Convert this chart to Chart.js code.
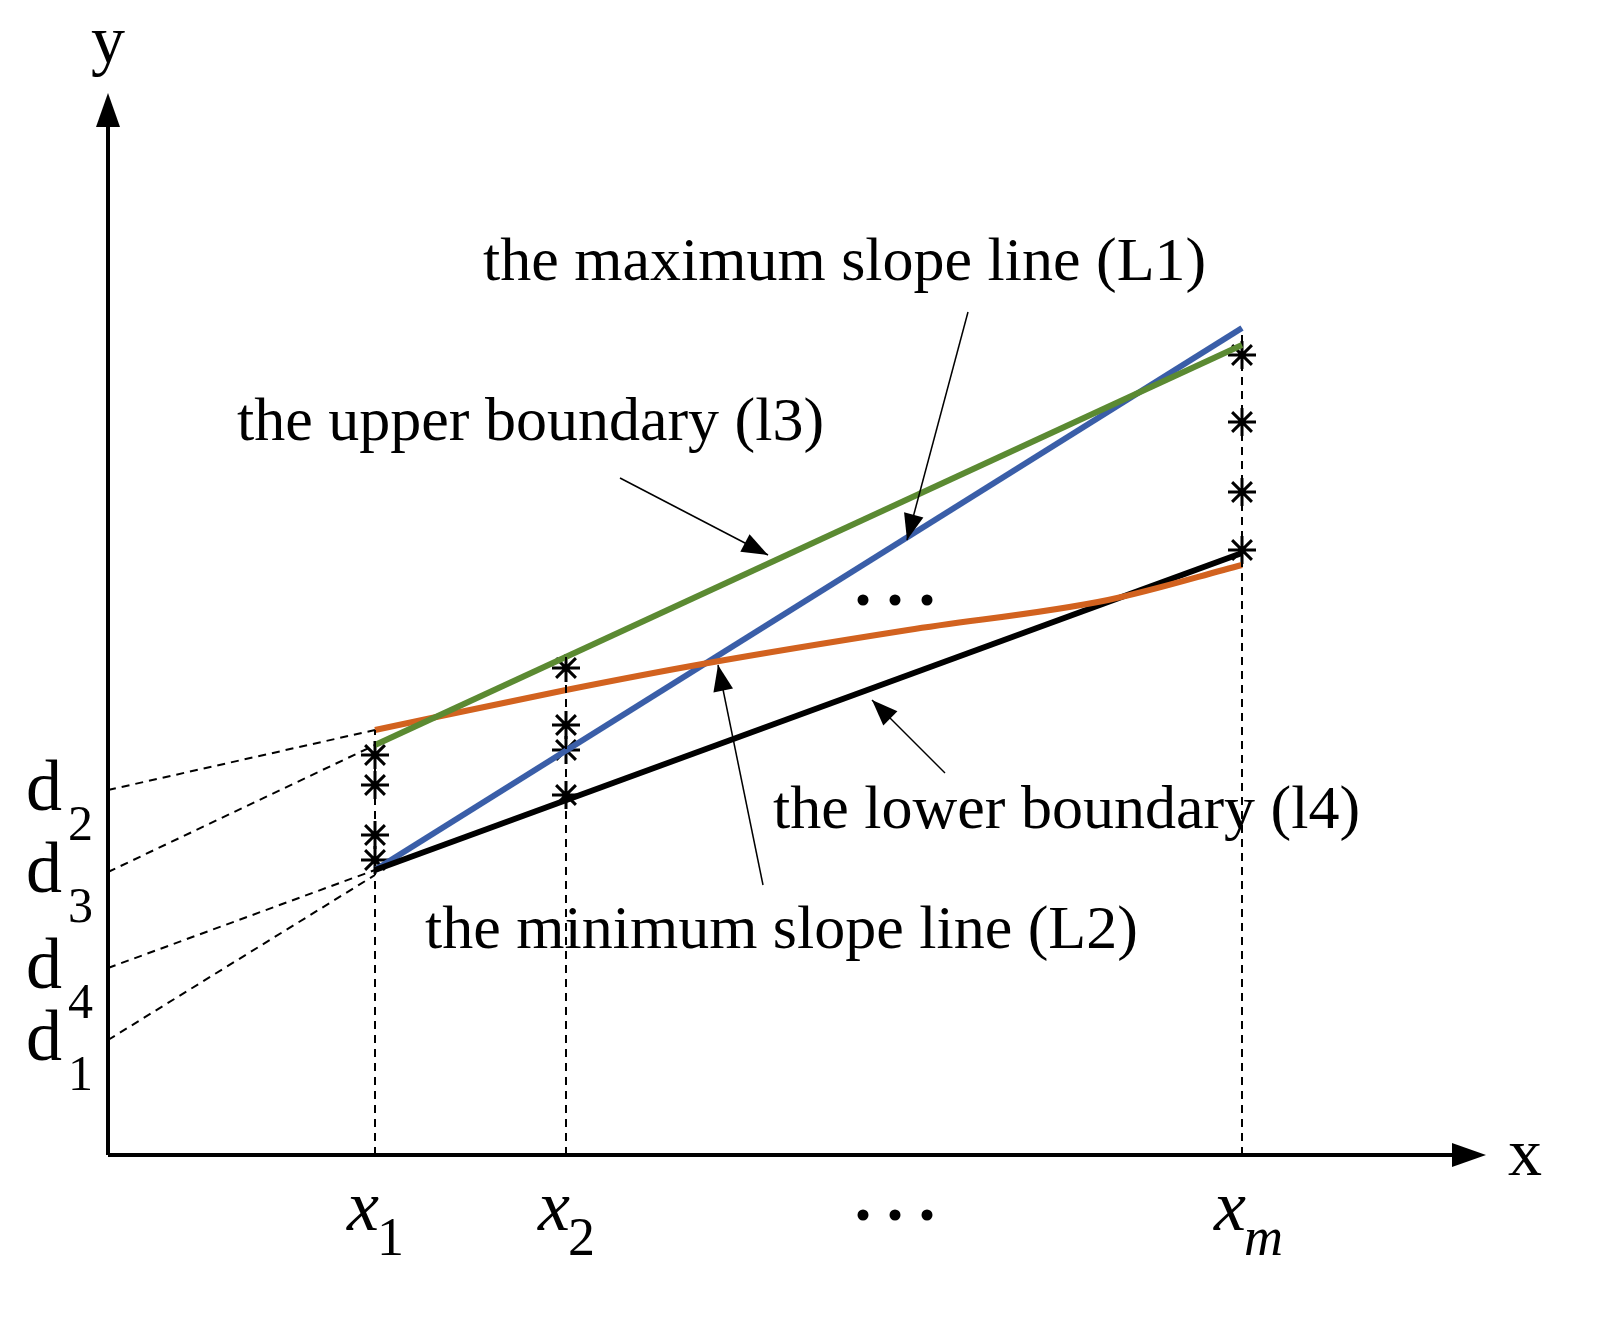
<!DOCTYPE html>
<html>
<head>
<meta charset="utf-8">
<script src="https://cdn.jsdelivr.net/npm/chart.js@4.4.1/dist/chart.umd.min.js"></script>
<style>
  body{margin:0;background:#fff;overflow:hidden;}
  canvas{display:block;}
</style>
</head>
<body>
<canvas id="myChart" width="1607" height="1323"></canvas>
<script>
// coordinates: x to the right of the y axis, y above the x axis (units ~ pixels of the figure)
const xTicks = [267, 458, 1134];          // x1, x2, xm
const blackLine = [[267, 285], [1134, 602]];
const blueLine = [[267, 285], [1134, 827]];
const greenLine = [[267, 410], [1134, 810]];
const orangeCurve = [[267, 425], [458, 465], [600, 492], [800, 525], [1000, 555], [1134, 590]];
const starsX1 = [400, 370, 320, 295];
const starsX2 = [487, 430, 405, 360];
const starsXm = [800, 733, 663, 605];
const dLabels = ['d2', 'd3', 'd4', 'd1'];
const dAxisY = [365, 283, 187, 115];
const dFromY = [425, 410, 285, 280];

let pt = (x, y) => ({x: x, y: y});
let line = (pts, color, width, dash) => ({
  data: pts.map(p => pt(p[0], p[1])), showLine: true, borderColor: color,
  borderWidth: width, borderDash: dash || [], pointRadius: 0, tension: 0, fill: false
});
let curve = (pts, color, width) => Object.assign(line(pts, color, width), {tension: 0.4, cubicInterpolationMode: 'monotone'});
let stars = (x, ys) => ({
  data: ys.map(y => pt(x, y)), showLine: false, pointStyle: 'star', pointRadius: 14,
  borderColor: '#000', borderWidth: 3, backgroundColor: '#000'
});

let datasets = [];
// dashed verticals
datasets.push(line([[xTicks[0], 0], [xTicks[0], 425]], '#000', 2, [8, 6]));
datasets.push(line([[xTicks[1], 0], [xTicks[1], 500]], '#000', 2, [8, 6]));
datasets.push(line([[xTicks[2], 0], [xTicks[2], 825]], '#000', 2, [8, 6]));
// dashed lines to y axis
dAxisY.forEach((y, i) => datasets.push(line([[0, y], [xTicks[0], dFromY[i]]], '#000', 2, [8, 6])));
datasets.push(line(greenLine, '#5b8a32', 6));
datasets.push(curve(orangeCurve, '#d2621f', 6));
datasets.push(line(blackLine, '#000', 6));
datasets.push(line(blueLine, '#3a5ea8', 6));
datasets.push(stars(xTicks[0], starsX1));
datasets.push(stars(xTicks[1], starsX2));
datasets.push(stars(xTicks[2], starsXm));
// axes
datasets.push(line([[0, 0], [0, 1040]], '#000', 4));
datasets.push(line([[0, 0], [1350, 0]], '#000', 4));

const serif = '"Liberation Serif", "DejaVu Serif", serif';
const texts = [
  ['the maximum slope line (L1)', 375, 875],
  ['the upper boundary (l3)', 129, 715],
  ['the lower boundary (l4)', 665, 327],
  ['the minimum slope line (L2)', 317, 207]
];
const pointers = [
  [[860, 843], [799, 615]],
  [[512, 677], [660, 600]],
  [[837, 382], [764, 455]],
  [[655, 270], [610, 490]]
];

let arrowHead = (ctx, x0, y0, x1, y1, len, w) => {
  let a = Math.atan2(y1 - y0, x1 - x0);
  ctx.beginPath();
  ctx.moveTo(x1, y1);
  ctx.lineTo(x1 - len * Math.cos(a) + w * Math.sin(a), y1 - len * Math.sin(a) - w * Math.cos(a));
  ctx.lineTo(x1 - len * Math.cos(a) - w * Math.sin(a), y1 - len * Math.sin(a) + w * Math.cos(a));
  ctx.closePath();
  ctx.fill();
};

const decor = {
  id: 'decor',
  afterDatasetsDraw(chart) {
    let ctx = chart.ctx, sx = chart.scales.x, sy = chart.scales.y;
    let X = v => sx.getPixelForValue(v), Y = v => sy.getPixelForValue(v);
    ctx.save();
    ctx.fillStyle = '#000'; ctx.strokeStyle = '#000';
    // axis arrows
    arrowHead(ctx, X(0), Y(0), X(0), Y(1062), 34, 12);
    arrowHead(ctx, X(0), Y(0), X(1378), Y(0), 34, 12);
    ctx.textBaseline = 'alphabetic';
    ctx.font = '68px ' + serif;
    ctx.fillText('y', X(-17), Y(1092));
    ctx.fillText('x', X(1400), Y(-20));
    // pointer arrows
    ctx.lineWidth = 1.5;
    pointers.forEach(p => {
      ctx.beginPath(); ctx.moveTo(X(p[0][0]), Y(p[0][1])); ctx.lineTo(X(p[1][0]), Y(p[1][1])); ctx.stroke();
      arrowHead(ctx, X(p[0][0]), Y(p[0][1]), X(p[1][0]), Y(p[1][1]), 26, 10);
    });
    // labels
    ctx.font = '62px ' + serif;
    texts.forEach(t => ctx.fillText(t[0], X(t[1]), Y(t[2])));
    // d labels
    dLabels.forEach((d, i) => {
      ctx.font = '72px ' + serif;
      ctx.fillText(d[0], X(-82), Y(dAxisY[i] - 20));
      ctx.font = '50px ' + serif;
      ctx.fillText(d[1], X(-40), Y(dAxisY[i] - 50));
    });
    // x tick labels
    let subs = ['1', '2', 'm'];
    xTicks.forEach((x, i) => {
      ctx.font = 'italic 72px ' + serif;
      ctx.fillText('x', X(x - 28), Y(-75));
      ctx.font = (i == 2 ? 'italic ' : '') + '54px ' + serif;
      ctx.fillText(subs[i], X(x + 2), Y(-100));
    });
    // ellipses
    [[787, -60], [787, 555]].forEach(p => {
      for (let k = 0; k < 3; k++) {
        ctx.beginPath(); ctx.arc(X(p[0] - 32 + k * 32), Y(p[1]), 5.5, 0, 2 * Math.PI); ctx.fill();
      }
    });
    ctx.restore();
  }
};

new Chart(document.getElementById('myChart').getContext('2d'), {
  type: 'scatter',
  data: {datasets: datasets},
  options: {
    responsive: false,
    animation: false,
    layout: {padding: 0, autoPadding: false},
    plugins: {legend: {display: false}, tooltip: {enabled: false}},
    scales: {
      x: {type: 'linear', min: -108, max: 1499, display: false},
      y: {type: 'linear', min: -168, max: 1155, display: false}
    }
  },
  plugins: [decor]
});
</script>
</body>
</html>
